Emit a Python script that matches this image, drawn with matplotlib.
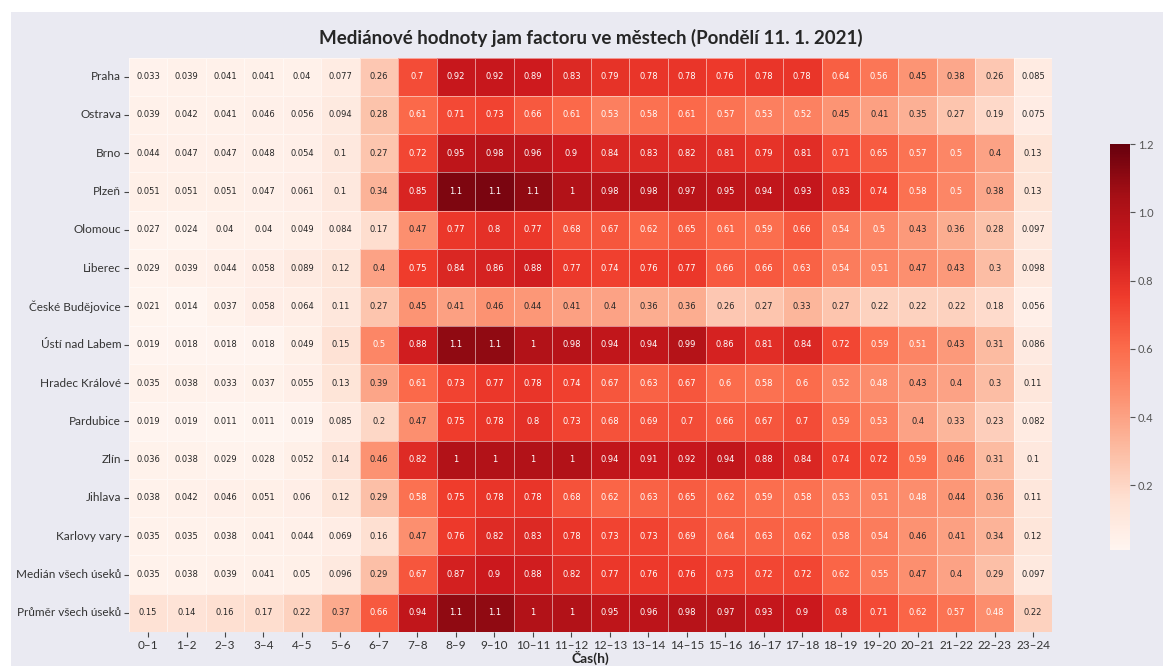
import matplotlib
matplotlib.use("Agg")
import matplotlib.pyplot as plt
import matplotlib.patches as mpatches
import seaborn as sns
import numpy as np
import pandas as pd

# hodnoty (radky = mesta, sloupce = hodiny)
cities = ["Praha", "Ostrava", "Brno", "Plzeň", "Olomouc", "Liberec",
          "České Budějovice", "Ústí nad Labem", "Hradec Králové", "Pardubice",
          "Zlín", "Jihlava", "Karlovy vary", "Medián všech úseků", "Průměr všech úseků"]
hours = [f"{h}–{h + 1}" for h in range(24)]

praha = [0.033, 0.039, 0.041, 0.041, 0.04, 0.077, 0.26, 0.7, 0.92, 0.92, 0.89, 0.83,
         0.79, 0.78, 0.78, 0.76, 0.78, 0.78, 0.64, 0.56, 0.45, 0.38, 0.26, 0.085]
ostrava = [0.039, 0.042, 0.041, 0.046, 0.056, 0.094, 0.28, 0.61, 0.71, 0.73, 0.66, 0.61,
           0.53, 0.58, 0.61, 0.57, 0.53, 0.52, 0.45, 0.41, 0.35, 0.27, 0.19, 0.075]
brno = [0.044, 0.047, 0.047, 0.048, 0.054, 0.1, 0.27, 0.72, 0.95, 0.98, 0.96, 0.9,
        0.84, 0.83, 0.82, 0.81, 0.79, 0.81, 0.71, 0.65, 0.57, 0.5, 0.4, 0.13]
plzen = [0.051, 0.051, 0.051, 0.047, 0.061, 0.1, 0.34, 0.85, 1.14, 1.15, 1.1, 1.0,
         0.98, 0.98, 0.97, 0.95, 0.94, 0.93, 0.83, 0.74, 0.58, 0.5, 0.38, 0.13]
olomouc = [0.027, 0.024, 0.04, 0.04, 0.049, 0.084, 0.17, 0.47, 0.77, 0.8, 0.77, 0.68,
           0.67, 0.62, 0.65, 0.61, 0.59, 0.66, 0.54, 0.5, 0.43, 0.36, 0.28, 0.097]
liberec = [0.029, 0.039, 0.044, 0.058, 0.089, 0.12, 0.4, 0.75, 0.84, 0.86, 0.88, 0.77,
           0.74, 0.76, 0.77, 0.66, 0.66, 0.63, 0.54, 0.51, 0.47, 0.43, 0.3, 0.098]
budejovice = [0.021, 0.014, 0.037, 0.058, 0.064, 0.11, 0.27, 0.45, 0.41, 0.46, 0.44, 0.41,
              0.4, 0.36, 0.36, 0.26, 0.27, 0.33, 0.27, 0.22, 0.22, 0.22, 0.18, 0.056]
usti = [0.019, 0.018, 0.018, 0.018, 0.049, 0.15, 0.5, 0.88, 1.1, 1.1, 1.0, 0.98,
        0.94, 0.94, 0.99, 0.86, 0.81, 0.84, 0.72, 0.59, 0.51, 0.43, 0.31, 0.086]
hradec = [0.035, 0.038, 0.033, 0.037, 0.055, 0.13, 0.39, 0.61, 0.73, 0.77, 0.78, 0.74,
          0.67, 0.63, 0.67, 0.6, 0.58, 0.6, 0.52, 0.48, 0.43, 0.4, 0.3, 0.11]
pardubice = [0.019, 0.019, 0.011, 0.011, 0.019, 0.085, 0.2, 0.47, 0.75, 0.78, 0.8, 0.73,
             0.68, 0.69, 0.7, 0.66, 0.67, 0.7, 0.59, 0.53, 0.4, 0.33, 0.23, 0.082]
zlin = [0.036, 0.038, 0.029, 0.028, 0.052, 0.14, 0.46, 0.82, 1.0, 1.0, 1.0, 1.0,
        0.94, 0.91, 0.92, 0.94, 0.88, 0.84, 0.74, 0.72, 0.59, 0.46, 0.31, 0.1]
jihlava = [0.038, 0.042, 0.046, 0.051, 0.06, 0.12, 0.29, 0.58, 0.75, 0.78, 0.78, 0.68,
           0.62, 0.63, 0.65, 0.62, 0.59, 0.58, 0.53, 0.51, 0.48, 0.44, 0.36, 0.11]
karlovy_vary = [0.035, 0.035, 0.038, 0.041, 0.044, 0.069, 0.16, 0.47, 0.76, 0.82, 0.83, 0.78,
                0.73, 0.73, 0.69, 0.64, 0.63, 0.62, 0.58, 0.54, 0.46, 0.41, 0.34, 0.12]
median_all = [0.035, 0.038, 0.039, 0.041, 0.05, 0.096, 0.29, 0.67, 0.87, 0.9, 0.88, 0.82,
              0.77, 0.76, 0.76, 0.73, 0.72, 0.72, 0.62, 0.55, 0.47, 0.4, 0.29, 0.097]
mean_all = [0.15, 0.14, 0.16, 0.17, 0.22, 0.37, 0.66, 0.94, 1.1, 1.1, 1.0, 1.0,
            0.95, 0.96, 0.98, 0.97, 0.93, 0.9, 0.8, 0.71, 0.62, 0.57, 0.48, 0.22]

df = pd.DataFrame([praha, ostrava, brno, plzen, olomouc, liberec, budejovice, usti,
                   hradec, pardubice, zlin, jihlava, karlovy_vary, median_all, mean_all],
                  index=cities, columns=hours)

sns.set_theme(style="darkgrid")
plt.rcParams['font.family'] = ['Lato', 'DejaVu Sans']

W, H = 1163, 666
fig = plt.figure(figsize=(W / 100, H / 100), dpi=100, facecolor="white")
# seda plocha za grafem (nahore a vlevo je bily okraj)
fig.patches.append(mpatches.Rectangle((11 / W, 0), 1, 1 - 12 / H, transform=fig.transFigure,
                                      facecolor="#EAEAF2", edgecolor="none", zorder=-1))

ax = fig.add_axes([128.8 / W, 1 - 632 / H, (1052.4 - 128.8) / W, (632 - 57.5) / H])
cax = fig.add_axes([1110 / W, 1 - 550 / H, 20 / W, 406 / H])

sns.heatmap(df, ax=ax, cbar_ax=cax, cmap="Reds", vmax=1.2, annot=True,
            annot_kws={"fontsize": 6, "family": "DejaVu Sans"},
            linewidths=0.5, linecolor=(1, 1, 1, 0.5))

ax.set_title("Mediánové hodnoty jam factoru ve městech (Pondělí 11. 1. 2021)",
             fontsize=13.5, fontweight="bold", color="#262626", pad=10)
ax.set_xlabel("Čas(h)", fontsize=10, fontweight="bold", color="#262626", labelpad=0)
ax.set_ylabel("")
ax.tick_params(axis="both", bottom=True, left=True, length=3.5, width=0.8, color="#444444",
               labelcolor="#333333", labelsize=8.5, pad=2)
ax.tick_params(axis="x", rotation=0)
ax.tick_params(axis="y", rotation=0)

cax.tick_params(right=True, length=3.5, width=0.8, color="#555555", labelcolor="#555555",
                labelsize=8, pad=2)
cax.set_yticks([0.2, 0.4, 0.6, 0.8, 1.0, 1.2])

fig.savefig("out.png", dpi=100, facecolor=fig.get_facecolor())
